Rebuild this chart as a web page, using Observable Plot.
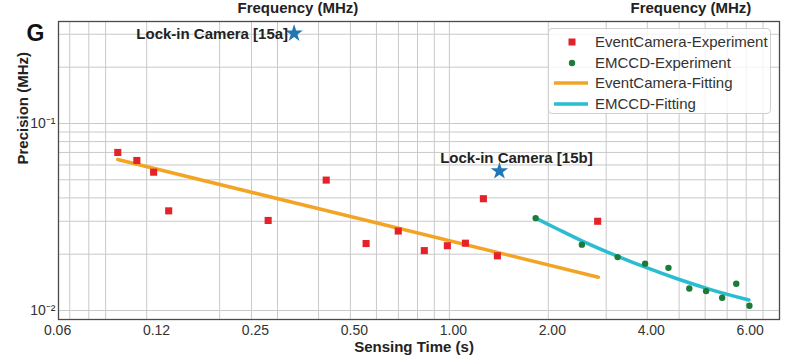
<!DOCTYPE html>
<html>
<head>
<meta charset="utf-8">
<script src="https://cdn.jsdelivr.net/npm/d3@7"></script>
<script src="https://cdn.jsdelivr.net/npm/@observablehq/plot@0.6"></script>
<style>
  html, body { margin: 0; padding: 0; background: #fff; }
  #wrap { position: relative; width: 793px; height: 360px; font-family: "Liberation Sans", Arial, sans-serif; }
  #legend { position: absolute; left: 548px; top: 28px; width: 223px; height: 86px; box-sizing: border-box;
    border: 1px solid #cfcfcf; border-radius: 4px; background: rgba(255,255,255,0.8); }
  .row { position: absolute; left: 0; height: 20px; display: flex; align-items: center; }
  .row span { position: absolute; left: 46px; font-size: 15px; color: #333; white-space: nowrap; line-height: 20px; }
  .row svg { position: absolute; left: 2px; }
</style>
</head>
<body>
<div id="wrap"></div>
<script>
// ---- data ----
const eventX = [0.098, 0.112, 0.126, 0.140, 0.281, 0.422, 0.558, 0.699, 0.839, 0.986, 1.119, 1.269, 1.40, 2.826];
const eventY = [0.0700, 0.0634, 0.0549, 0.0341, 0.0303, 0.0498, 0.0228, 0.0266, 0.0209, 0.0222, 0.0229, 0.0396, 0.0196, 0.0300];

const emccdX = [1.83, 2.53, 3.25, 3.94, 4.64, 5.37, 6.04, 6.76, 7.46, 8.18];
const emccdY = [0.0312, 0.0225, 0.0193, 0.0178, 0.0169, 0.0131, 0.0127, 0.0117, 0.0139, 0.0106];

const eventFitX = [0.098, 2.84];
const eventFitY = [0.0642, 0.01507];

const emccdFitX = [1.83, 2.14, 2.52, 3.24, 3.98, 4.98, 6.31, 8.15];
const emccdFitY = [0.0312, 0.0272, 0.02366, 0.01954, 0.01693, 0.01469, 0.01286, 0.01138];

const starLabels = ["Lock-in Camera [15a]", "Lock-in Camera [15b]"];
const starX = [0.337, 1.42];
const starY = [0.303, 0.0556];

const xTickValues = [0.0625, 0.125, 0.25, 0.5, 1, 2, 4, 8];
const xTickLabels = ["0.06", "0.12", "0.25", "0.50", "1.00", "2.00", "4.00", "6.00"];
const yTickValues = [0.01, 0.1];
const yTickLabels = ["10\u207B\u00B2", "10\u207B\u00B9"];

const xGrid = [0.07, 0.08, 0.09, 0.12, 0.2, 0.25, 0.3, 0.4, 0.5, 0.6, 0.7, 0.8, 0.9, 1, 2, 3, 4, 5, 6, 7, 8, 9];
const yGrid = [0.01, 0.02, 0.03, 0.04, 0.05, 0.06, 0.07, 0.08, 0.09, 0.1, 0.2, 0.3];

const seriesNames = ["EventCamera-Experiment", "EMCCD-Experiment", "EventCamera-Fitting", "EMCCD-Fitting"];
const colors = {red: "#e3222a", green: "#1d7a3b", orange: "#f3a425", cyan: "#2abdd1", star: "#1f77b4"};

// ---- tables ----
const events = eventX.map((x, i) => ({x, y: eventY[i]}));
const emccd = emccdX.map((x, i) => ({x, y: emccdY[i]}));
const eventFit = eventFitX.map((x, i) => ({x, y: eventFitY[i]}));
const emccdFit = emccdFitX.map((x, i) => ({x, y: emccdFitY[i]}));
const stars = starX.map((x, i) => ({x, y: starY[i], label: starLabels[i]}));
const xTicks = xTickValues.map((v, i) => ({v, label: xTickLabels[i]}));
const yLabelMap = new Map(yTickValues.map((v, i) => [v, yTickLabels[i]]));

const chart = Plot.plot({
  width: 793,
  height: 360,
  marginLeft: 58,
  marginRight: 14,
  marginTop: 21,
  marginBottom: 41,
  style: {fontFamily: "'Liberation Sans', Arial, sans-serif", background: "transparent", overflow: "visible"},
  x: {type: "log", domain: [0.0647, 10.1], label: null, axis: null},
  y: {type: "log", domain: [0.00895, 0.351], label: null},
  marks: [
    Plot.ruleX(xGrid, {stroke: "#c9c9c9", strokeWidth: 1}),
    Plot.ruleY(yGrid, {stroke: "#c9c9c9", strokeWidth: 1}),
    Plot.frame({stroke: "#4a4a4a", strokeWidth: 1.3}),
    Plot.text(xTicks, {x: "v", text: "label", frameAnchor: "bottom", lineAnchor: "top", dx: 4, dy: 6, fontSize: 14, fill: "#333"}),
    Plot.axisY(yTickValues, {tickSize: 0, tickPadding: 3, tickFormat: d => yLabelMap.get(d), fontSize: 14, fill: "#333", label: null}),
    Plot.line(eventFit, {x: "x", y: "y", stroke: colors.orange, strokeWidth: 3.5}),
    Plot.line(emccdFit, {x: "x", y: "y", stroke: colors.cyan, strokeWidth: 3.5, curve: "monotone-x"}),
    Plot.dot(events, {x: "x", y: "y", symbol: "square", r: 4, fill: colors.red}),
    Plot.dot(emccd, {x: "x", y: "y", symbol: "circle", r: 3.2, fill: colors.green}),
    Plot.dot(stars, {x: "x", y: "y", symbol: "star", r: 5.5, fill: colors.star}),
    Plot.text(stars.slice(0, 1), {x: "x", y: "y", text: "label", textAnchor: "end", dx: -6, dy: 1, fontSize: 15, fontWeight: "bold", fill: "#222"}),
    Plot.text(stars.slice(1, 2), {x: "x", y: "y", text: "label", textAnchor: "middle", dx: 17, dy: -13, fontSize: 15, fontWeight: "bold", fill: "#222"}),
    Plot.text(["Sensing Time (s)"], {frameAnchor: "bottom", dx: -5, dy: 32, fontSize: 15, fontWeight: "bold", fill: "#222"}),
    Plot.text(["Precision (MHz)"], {frameAnchor: "left", rotate: -90, dx: -35, dy: -6, fontSize: 15, fontWeight: "bold", fill: "#222"}),
    Plot.text(["G"], {frameAnchor: "top-left", dx: -32, dy: 3, fontSize: 23, fontWeight: "bold", fill: "#111"}),
    Plot.text(["Frequency (MHz)"], {frameAnchor: "top-left", dx: 179, dy: -19, fontSize: 15, fontWeight: "bold", fill: "#222"}),
    Plot.text(["Frequency (MHz)"], {frameAnchor: "top-left", dx: 572, dy: -19, fontSize: 15, fontWeight: "bold", fill: "#222"})
  ]
});

const wrap = document.getElementById("wrap");
wrap.appendChild(chart);

// ---- legend overlay ----
const legend = document.createElement("div");
legend.id = "legend";
const swatches = [
  `<svg width="40" height="20"><rect x="17.5" y="6.5" width="7" height="7" fill="${colors.red}"/></svg>`,
  `<svg width="40" height="20"><circle cx="21" cy="10" r="3.2" fill="${colors.green}"/></svg>`,
  `<svg width="40" height="20"><line x1="3" x2="37" y1="10" y2="10" stroke="${colors.orange}" stroke-width="3.5"/></svg>`,
  `<svg width="40" height="20"><line x1="3" x2="37" y1="10" y2="10" stroke="${colors.cyan}" stroke-width="3.5"/></svg>`
];
seriesNames.forEach((name, i) => {
  const row = document.createElement("div");
  row.className = "row";
  row.style.top = (3 + i * 20.5) + "px";
  row.innerHTML = swatches[i] + `<span>${name}</span>`;
  legend.appendChild(row);
});
wrap.appendChild(legend);
</script>
</body>
</html>
